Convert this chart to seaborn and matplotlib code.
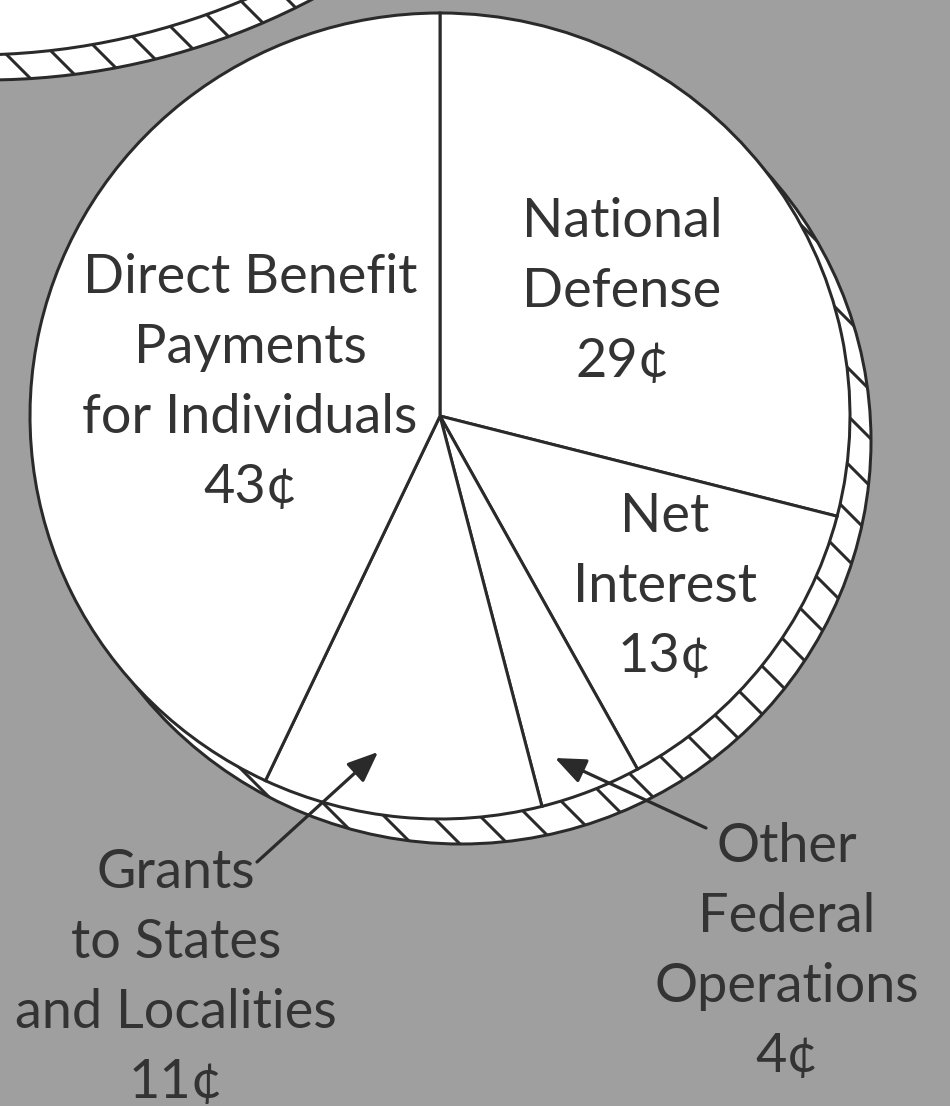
import matplotlib
matplotlib.use("Agg")
import matplotlib.pyplot as plt
import matplotlib.patches as mpatches
import matplotlib.transforms as mtransforms
import seaborn as sns

# Where the federal dollar goes, in cents, clockwise from twelve o'clock
categories = [
    "National Defense",
    "Net Interest",
    "Other Federal Operations",
    "Grants to States and Localities",
    "Direct Benefit Payments for Individuals",
]
cents = [29, 13, 4, 11, 43]
label_lines = [
    ["National", "Defense"],
    ["Net", "Interest"],
    ["Other", "Federal", "Operations"],
    ["Grants", "to States", "and Localities"],
    ["Direct Benefit", "Payments", "for Individuals"],
]

# canvas and styling
W, H, DPI = 950, 1106, 144
BG = "#9f9f9f"
INK = "#2a2a2a"
TEXT = "#333333"

sns.set_theme(style="white")
plt.rcParams["font.family"] = ["Lato", "DejaVu Sans"]
plt.rcParams["hatch.linewidth"] = 1.5
plt.rcParams["hatch.color"] = INK

fig = plt.figure(figsize=(W / DPI, H / DPI), dpi=DPI, facecolor=BG)
ax = fig.add_axes([0, 0, 1, 1])
ax.set_facecolor(BG)

# image-pixel coordinates (origin top-left, y down) -> display
px = mtransforms.Affine2D().scale(1, -1).translate(0, H)

# main coin: face centre and semi-axes in pixels, rim offset down-right
CX, CY, RX, RY = 440, 416, 410, 403
RIM_DX, RIM_DY = 21, 25

# coin face = the pie itself
wedges, _ = ax.pie(
    cents,
    startangle=90,
    counterclock=False,
    radius=1,
    center=(0, 0),
    colors=["white"] * len(cents),
    wedgeprops=dict(edgecolor=INK, linewidth=1.5, zorder=3),
)

# milled edge of the coin peeking out below the face
rim = mpatches.Circle((RIM_DX / RX, -RIM_DY / RY), 1, facecolor="white",
                      edgecolor=INK, hatch="\\", linewidth=1.5, zorder=2)
ax.add_patch(rim)

# a second coin cut off in the top-left corner
c2x, c2y, c2r = -28, -645, 700
coin2_rim = mpatches.Circle((c2x + 14, c2y + 25), c2r, transform=px,
                            facecolor="white", edgecolor=INK, hatch="\\",
                            linewidth=1.5, zorder=1)
coin2_face = mpatches.Circle((c2x, c2y), c2r, transform=px,
                             facecolor="white", edgecolor=INK,
                             linewidth=1.5, zorder=1.5)
ax.add_patch(coin2_rim)
ax.add_patch(coin2_face)

ax.set_aspect("auto")
ax.set_xlim(-CX / RX, (W - CX) / RX)
ax.set_ylim((CY - H) / RY, CY / RY)
ax.axis("off")

# label blocks: centre x and first baseline, in pixels
anchors = [(622, 237), (665, 532), (787, 862), (176, 888), (250, 293)]
LINE_STEP = 70
for lines, value, (lx, ly) in zip(label_lines, cents, anchors):
    for i, s in enumerate(lines + [f"{value}\u00a2"]):
        ax.text(lx, ly + i * LINE_STEP, s, transform=px, ha="center",
                va="baseline", fontsize=27, color=TEXT, zorder=5)

# pointers for the two thin slices
arrow_style = dict(arrowstyle="-|>,head_length=0.65,head_width=0.27",
                   color=INK, lw=1.6, mutation_scale=20, shrinkA=0, shrinkB=0)
ax.annotate("", xy=(378, 752), xytext=(257, 862), xycoords=px,
            textcoords=px, arrowprops=arrow_style, zorder=6)
ax.annotate("", xy=(555, 758), xytext=(706, 828), xycoords=px,
            textcoords=px, arrowprops=arrow_style, zorder=6)

fig.savefig("out.png", dpi=DPI, facecolor=BG)
